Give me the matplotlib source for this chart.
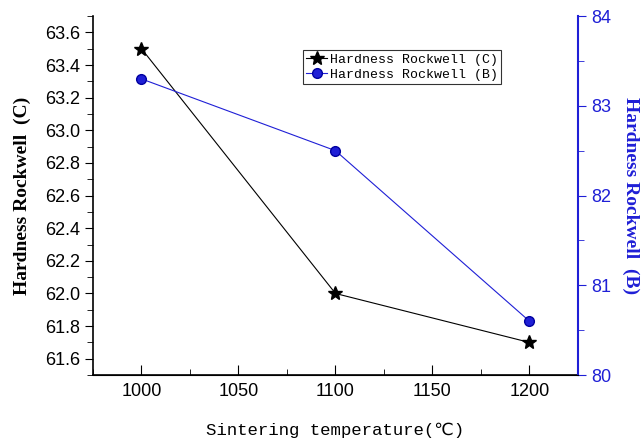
import numpy as np
import matplotlib
matplotlib.use("Agg")
import matplotlib.pyplot as plt
from matplotlib.ticker import MultipleLocator

# data
temps = [1000, 1100, 1200]
hrc = [63.5, 62.0, 61.7]
hrb = [83.3, 82.5, 80.6]

blue = "#1f1fd6"

fig = plt.figure(figsize=(6.44, 4.46), dpi=100)
ax = fig.add_axes([0.1444, 0.159, 0.7531, 0.805])
ax2 = ax.twinx()

l1, = ax.plot(temps, hrc, "-", color="black", lw=0.8, marker="*", ms=10,
              mfc="black", mec="black", label="Hardness Rockwell (C)")
l2, = ax2.plot(temps, hrb, "-", color=blue, lw=0.8, marker="o", ms=7,
               mfc=blue, mec="#0000a0", label="Hardness Rockwell (B)")

ax.set_xlim(975, 1225)
ax.set_ylim(61.5, 63.7)
ax2.set_ylim(80, 84)

ax.xaxis.set_major_locator(MultipleLocator(50))
ax.xaxis.set_minor_locator(MultipleLocator(25))
ax.yaxis.set_major_locator(MultipleLocator(0.2))
ax.yaxis.set_minor_locator(MultipleLocator(0.1))
ax2.yaxis.set_major_locator(MultipleLocator(1))
ax2.yaxis.set_minor_locator(MultipleLocator(0.5))

ax.spines["top"].set_visible(False)
ax2.spines["top"].set_visible(False)
ax2.spines["left"].set_visible(False)
ax.spines["right"].set_visible(False)
ax2.spines["right"].set_color(blue)
ax2.spines["right"].set_linewidth(1.5)
for s in ["left", "bottom"]:
    ax.spines[s].set_linewidth(1.2)

ax.tick_params(axis="x", which="both", direction="in", labelsize=13, pad=6)
ax.tick_params(axis="x", which="major", length=7)
ax.tick_params(axis="x", which="minor", length=4)
ax.tick_params(axis="y", which="both", direction="out", labelsize=13)
ax.tick_params(axis="y", which="major", length=6)
ax.tick_params(axis="y", which="minor", length=4)
ax2.tick_params(axis="y", which="both", direction="out", colors=blue, labelsize=13)
ax2.tick_params(axis="y", which="major", length=6)
ax2.tick_params(axis="y", which="minor", length=4)

for lab in ax.get_xticklabels() + ax.get_yticklabels() + ax2.get_yticklabels():
    lab.set_family("Liberation Sans")

ax.set_xlabel("Sintering temperature(℃)", fontsize=12.5,
              family=["Liberation Mono", "DejaVu Sans"], labelpad=16)
ax.set_ylabel("Hardness Rockwell  (C)", fontsize=14, fontweight="bold",
              family="Liberation Serif", labelpad=10)
ax2.set_ylabel("Hardness Rockwell  (B)", fontsize=14, fontweight="bold",
               family="Liberation Serif", color=blue, rotation=270, labelpad=20)

leg = ax.legend(handles=[l1, l2], loc="upper left", bbox_to_anchor=(0.433, 0.905),
                prop={"family": "Liberation Mono", "size": 9.5},
                frameon=True, fancybox=False, handlelength=1.6,
                handletextpad=0.2, borderpad=0.25, labelspacing=0.2,
                borderaxespad=0)
leg.get_frame().set_edgecolor("black")
leg.get_frame().set_linewidth(0.8)

plt.savefig("out.png", dpi=100)
